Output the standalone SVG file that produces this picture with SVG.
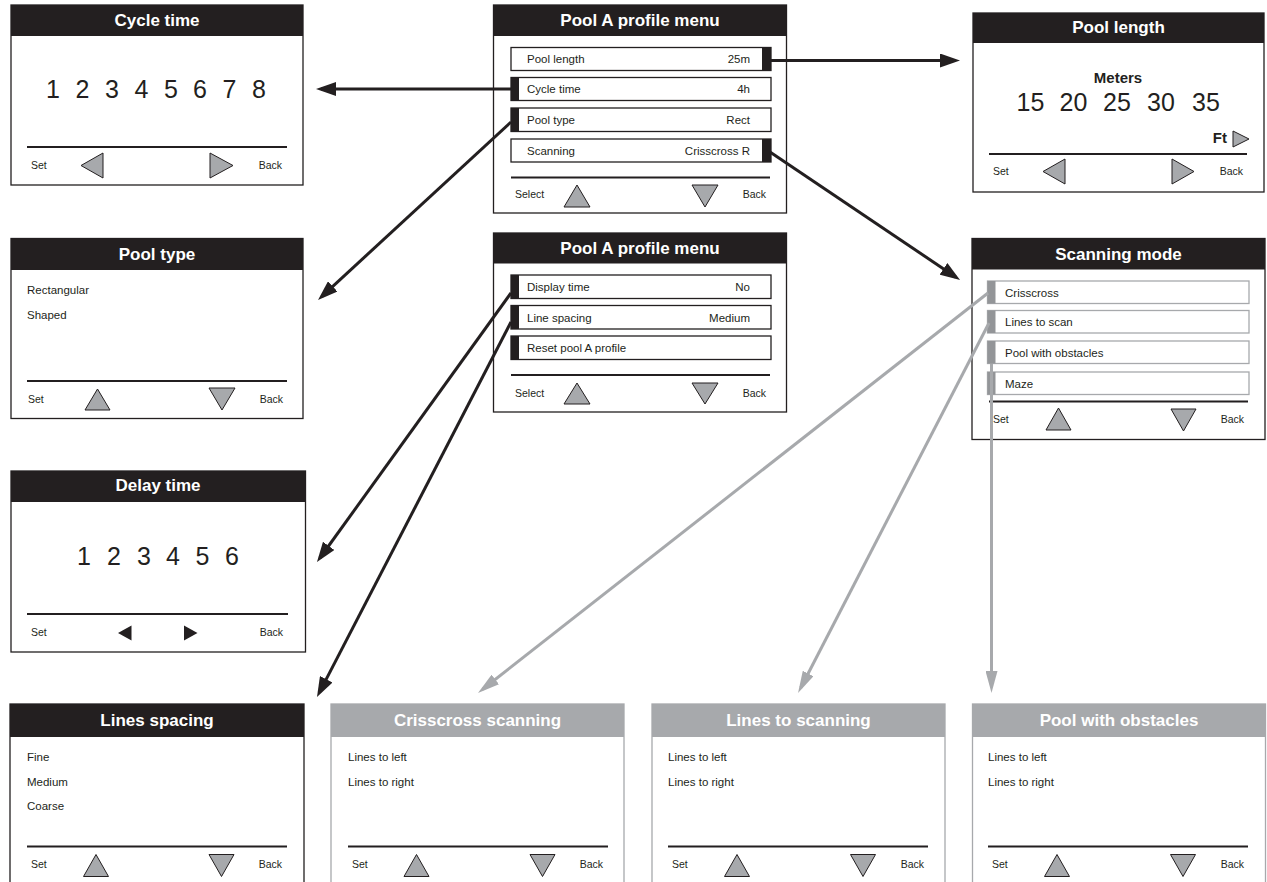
<svg xmlns="http://www.w3.org/2000/svg" width="1267" height="882" viewBox="0 0 1267 882">
<style>
.bg{fill:#fff}
.pb{fill:#fff;stroke:#231f20;stroke-width:1.3}
.pg{fill:#fff;stroke:#a7a9ac;stroke-width:1.3}
.hb{fill:#231f20}
.hg{fill:#a7a9ac}
.ttl{font-family:'Liberation Sans',Arial,sans-serif;font-weight:bold;font-size:17px;fill:#fff;text-anchor:middle}
.t{font-family:'Liberation Sans',Arial,sans-serif;font-size:11.5px;fill:#231f20}
.s{font-size:10.5px}
.r{text-anchor:end}
.m{text-anchor:middle}
.b{font-weight:bold;font-size:15px}
.big{font-size:25px;text-anchor:middle}
.dv{stroke:#231f20;stroke-width:2.2}
.tri{fill:#a7a9ac;stroke:#231f20;stroke-width:1}
.row{fill:#fff;stroke:#231f20;stroke-width:1.3}
.rowg{fill:#fff;stroke:#a7a9ac;stroke-width:1.3}
.tab{fill:#231f20}
.tabg{fill:#939598}
.cb{stroke:#231f20;stroke-width:3;fill:none}
.cg{stroke:#a7a9ac;stroke-width:3;fill:none}
</style>
<defs>
<marker id="ab" markerWidth="20" markerHeight="14" refX="15" refY="7" orient="auto" markerUnits="userSpaceOnUse"><path d="M0,0 L20,7 L0,14 z" fill="#231f20"/></marker>
<marker id="ag" markerWidth="22" markerHeight="12" refX="16" refY="6" orient="auto" markerUnits="userSpaceOnUse"><path d="M0,0 L22,6 L0,12 z" fill="#a7a9ac"/></marker>
</defs>
<rect class="bg" x="0" y="0" width="1267" height="882"/>

<g id="cycle-time">
<rect class="pb" x="11" y="5" width="292" height="180"/>
<rect class="hb" x="11" y="5" width="292" height="31"/>
<text class="ttl" x="157" y="26">Cycle time</text>
<text class="t big" y="98"><tspan x="53">1</tspan><tspan x="82.5">2</tspan><tspan x="112">3</tspan><tspan x="141.5">4</tspan><tspan x="171">5</tspan><tspan x="200">6</tspan><tspan x="229.5">7</tspan><tspan x="259">8</tspan></text>
<line class="dv" x1="27" y1="147" x2="287" y2="147"/>
<text class="t s" x="31" y="169">Set</text>
<polygon class="tri" points="81,165.5 103,153 103,178"/>
<polygon class="tri" points="210,153 210,178 233,165.5"/>
<text class="t s r" x="282" y="169">Back</text>
</g>

<g id="pool-a-menu-1">
<rect class="pb" x="493.5" y="5" width="293" height="208"/>
<rect class="hb" x="493.5" y="5" width="293" height="31"/>
<text class="ttl" x="640" y="26">Pool A profile menu</text>
<rect class="row" x="511" y="47.5" width="260" height="23"/>
<rect class="tab" x="762" y="47.5" width="9" height="23"/>
<text class="t" x="527" y="63">Pool length</text>
<text class="t r" x="750" y="63">25m</text>
<rect class="row" x="511" y="77.5" width="260" height="23"/>
<rect class="tab" x="511" y="77.5" width="8" height="23"/>
<text class="t" x="527" y="93">Cycle time</text>
<text class="t r" x="750" y="93">4h</text>
<rect class="row" x="511" y="108" width="260" height="23.5"/>
<rect class="tab" x="511" y="108" width="8" height="23.5"/>
<text class="t" x="527" y="124">Pool type</text>
<text class="t r" x="750" y="124">Rect</text>
<rect class="row" x="511" y="139" width="260" height="23"/>
<rect class="tab" x="762" y="139" width="9" height="23"/>
<text class="t" x="527" y="155">Scanning</text>
<text class="t r" x="750" y="155">Crisscross R</text>
<line class="dv" x1="511" y1="177.5" x2="770" y2="177.5"/>
<text class="t s" x="515" y="198">Select</text>
<polygon class="tri" points="577,185 564,207 590,207"/>
<polygon class="tri" points="692,185 718,185 705,207"/>
<text class="t s r" x="766" y="198">Back</text>
</g>

<g id="pool-length">
<rect class="pb" x="973" y="13" width="291" height="179"/>
<rect class="hb" x="973" y="13" width="291" height="30"/>
<text class="ttl" x="1118.5" y="33">Pool length</text>
<text class="t b m" x="1118" y="83">Meters</text>
<text class="t big" y="111"><tspan x="1030.5">15</tspan><tspan x="1073.5">20</tspan><tspan x="1117">25</tspan><tspan x="1161">30</tspan><tspan x="1206">35</tspan></text>
<text class="t b r" x="1227" y="143">Ft</text>
<polygon class="tri" points="1233,131 1233,147 1249,139"/>
<line class="dv" x1="989" y1="154" x2="1247" y2="154"/>
<text class="t s" x="993" y="175">Set</text>
<polygon class="tri" points="1043,171.5 1065,159 1065,184"/>
<polygon class="tri" points="1172,159 1172,184 1194,171.5"/>
<text class="t s r" x="1243" y="175">Back</text>
</g>

<g id="pool-type">
<rect class="pb" x="11" y="238.5" width="292" height="180"/>
<rect class="hb" x="11" y="238.5" width="292" height="31.5"/>
<text class="ttl" x="157" y="260">Pool type</text>
<text class="t" x="27" y="294">Rectangular</text>
<text class="t" x="27" y="319">Shaped</text>
<line class="dv" x1="27" y1="381" x2="287" y2="381"/>
<text class="t s" x="28" y="403">Set</text>
<polygon class="tri" points="97.5,389 85,410 110,410"/>
<polygon class="tri" points="209,388 235,388 222,410"/>
<text class="t s r" x="283" y="403">Back</text>
</g>

<g id="pool-a-menu-2">
<rect class="pb" x="493.5" y="233" width="293" height="179"/>
<rect class="hb" x="493.5" y="233" width="293" height="30.5"/>
<text class="ttl" x="640" y="254">Pool A profile menu</text>
<rect class="row" x="511" y="275" width="260" height="23.5"/>
<rect class="tab" x="511" y="275" width="8" height="23.5"/>
<text class="t" x="527" y="291">Display time</text>
<text class="t r" x="750" y="291">No</text>
<rect class="row" x="511" y="305.5" width="260" height="23.5"/>
<rect class="tab" x="511" y="305.5" width="8" height="23.5"/>
<text class="t" x="527" y="321.5">Line spacing</text>
<text class="t r" x="750" y="321.5">Medium</text>
<rect class="row" x="511" y="336" width="260" height="23.5"/>
<rect class="tab" x="511" y="336" width="8" height="23.5"/>
<text class="t" x="527" y="352">Reset pool A profile</text>
<line class="dv" x1="511" y1="375" x2="770" y2="375"/>
<text class="t s" x="515" y="397">Select</text>
<polygon class="tri" points="577,383 564,404 590,404"/>
<polygon class="tri" points="692,383 718,383 705,404"/>
<text class="t s r" x="766" y="397">Back</text>
</g>

<g id="scanning-mode">
<rect class="pb" x="972" y="238.5" width="293" height="201"/>
<rect class="hb" x="972" y="238.5" width="293" height="31"/>
<text class="ttl" x="1118.5" y="260">Scanning mode</text>
<rect class="rowg" x="987.5" y="281" width="261.5" height="22.5"/>
<rect class="tabg" x="987.5" y="281" width="8" height="22.5"/>
<text class="t" x="1005" y="296.5">Crisscross</text>
<rect class="rowg" x="987.5" y="310.5" width="261.5" height="22.5"/>
<rect class="tabg" x="987.5" y="310.5" width="8" height="22.5"/>
<text class="t" x="1005" y="326">Lines to scan</text>
<rect class="rowg" x="987.5" y="341" width="261.5" height="22.5"/>
<rect class="tabg" x="987.5" y="341" width="8" height="22.5"/>
<text class="t" x="1005" y="356.5">Pool with obstacles</text>
<rect class="rowg" x="987.5" y="372" width="261.5" height="22.5"/>
<rect class="tabg" x="987.5" y="372" width="8" height="22.5"/>
<text class="t" x="1005" y="387.5">Maze</text>
<line class="dv" x1="989" y1="401.5" x2="1248" y2="401.5"/>
<text class="t s" x="993" y="423">Set</text>
<polygon class="tri" points="1058.5,408 1046,430 1071,430"/>
<polygon class="tri" points="1171,409 1196,409 1183.5,431"/>
<text class="t s r" x="1244" y="423">Back</text>
</g>

<g id="delay-time">
<rect class="pb" x="11" y="471" width="294.5" height="181"/>
<rect class="hb" x="11" y="471" width="294.5" height="31"/>
<text class="ttl" x="158" y="491">Delay time</text>
<text class="t big" y="565"><tspan x="84">1</tspan><tspan x="114">2</tspan><tspan x="144">3</tspan><tspan x="173">4</tspan><tspan x="202.5">5</tspan><tspan x="232">6</tspan></text>
<line class="dv" x1="27" y1="614" x2="288" y2="614"/>
<text class="t s" x="31" y="636">Set</text>
<polygon fill="#231f20" points="118,633 131.5,625.5 131.5,640.5"/>
<polygon fill="#231f20" points="184,625.5 184,640.5 197.5,633"/>
<text class="t s r" x="283" y="636">Back</text>
</g>

<g id="lines-spacing">
<rect class="pb" x="10" y="704" width="294" height="190"/>
<rect class="hb" x="10" y="704" width="294" height="33"/>
<text class="ttl" x="157" y="726">Lines spacing</text>
<text class="t" x="27" y="761">Fine</text>
<text class="t" x="27" y="786">Medium</text>
<text class="t" x="27" y="810">Coarse</text>
<line class="dv" x1="27" y1="846.5" x2="287" y2="846.5"/>
<text class="t s" x="31" y="868">Set</text>
<polygon class="tri" points="96,854.5 83.5,876.5 108.5,876.5"/>
<polygon class="tri" points="209,854.5 234,854.5 221.5,876.5"/>
<text class="t s r" x="282" y="868">Back</text>
</g>

<g id="crisscross-scanning">
<rect class="pg" x="331" y="704" width="293" height="190"/>
<rect class="hg" x="331" y="704" width="293" height="33"/>
<text class="ttl" x="477.5" y="726">Crisscross scanning</text>
<text class="t" x="348" y="761">Lines to left</text>
<text class="t" x="348" y="786">Lines to right</text>
<line class="dv" x1="348" y1="846.5" x2="608" y2="846.5"/>
<text class="t s" x="352" y="868">Set</text>
<polygon class="tri" points="416.5,854.5 404,876.5 429,876.5"/>
<polygon class="tri" points="530,854.5 555,854.5 542.5,876.5"/>
<text class="t s r" x="603" y="868">Back</text>
</g>

<g id="lines-to-scanning">
<rect class="pg" x="652" y="704" width="293" height="190"/>
<rect class="hg" x="652" y="704" width="293" height="33"/>
<text class="ttl" x="798.5" y="726">Lines to scanning</text>
<text class="t" x="668" y="761">Lines to left</text>
<text class="t" x="668" y="786">Lines to right</text>
<line class="dv" x1="668" y1="846.5" x2="928" y2="846.5"/>
<text class="t s" x="672" y="868">Set</text>
<polygon class="tri" points="737,854.5 724.5,876.5 749.5,876.5"/>
<polygon class="tri" points="850.5,854.5 875.5,854.5 863,876.5"/>
<text class="t s r" x="924" y="868">Back</text>
</g>

<g id="pool-with-obstacles">
<rect class="pg" x="972.5" y="704" width="293" height="190"/>
<rect class="hg" x="972.5" y="704" width="293" height="33"/>
<text class="ttl" x="1119" y="726">Pool with obstacles</text>
<text class="t" x="988" y="761">Lines to left</text>
<text class="t" x="988" y="786">Lines to right</text>
<line class="dv" x1="988" y1="846.5" x2="1248" y2="846.5"/>
<text class="t s" x="992" y="868">Set</text>
<polygon class="tri" points="1057,854.5 1044.5,876.5 1069.5,876.5"/>
<polygon class="tri" points="1170.5,854.5 1195.5,854.5 1183,876.5"/>
<text class="t s r" x="1244" y="868">Back</text>
</g>

<g id="connectors">
<path class="cb" d="M770,60.5 H955" marker-end="url(#ab)"/>
<path class="cb" d="M511,89 H321" marker-end="url(#ab)"/>
<path class="cb" d="M511,122 L321.7,296.6" marker-end="url(#ab)"/>
<path class="cb" d="M770,152 L955.9,277.2" marker-end="url(#ab)"/>
<path class="cb" d="M511,293 L319.9,558" marker-end="url(#ab)"/>
<path class="cb" d="M511,322 L319.3,692.6" marker-end="url(#ab)"/>
<path class="cg" d="M988,293 L482.7,689.3" marker-end="url(#ag)"/>
<path class="cg" d="M989,323 L800.8,687.7" marker-end="url(#ag)"/>
<path class="cg" d="M991.5,364 V687" marker-end="url(#ag)"/>
</g>
</svg>
